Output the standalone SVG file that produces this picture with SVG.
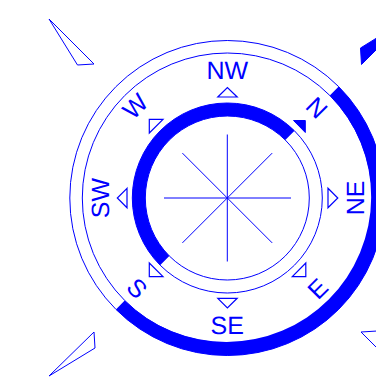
<svg xmlns="http://www.w3.org/2000/svg" width="376" height="381" viewBox="0 0 376 381">
<style>
.t{fill:none;stroke:#00f;stroke-width:1}
.k{fill:none;stroke:#00f;stroke-width:1.2}
.f{fill:#00f;stroke:#00f;stroke-width:1}
.th{fill:#00f;stroke:none}
text{font-family:"Liberation Sans",Arial,sans-serif;font-size:25px;fill:#00f;text-anchor:middle;text-rendering:geometricPrecision}
</style>
<rect width="376" height="381" fill="#fff"/>
<g id="rings">
<circle class="t" cx="227.300" cy="198" r="157.500"/>
<circle class="t" cx="227.300" cy="198" r="145"/>
<circle class="t" cx="227.300" cy="198" r="95"/>
<circle class="t" cx="227.300" cy="198" r="82"/>
<path class="th" d="M338.700 86.600A157.500 157.500 0 0 1 115.900 309.400L124.700 300.500A145 145 0 0 0 329.800 95.500Z"/>
<path class="th" d="M294.500 130.800A95 95 0 0 0 160.100 265.200L169.300 256A82 82 0 0 1 285.300 140Z"/>
</g>
<g id="connectors">
<path class="t" d="M227.300 134.500V261.500M164 198H291M182.400 153.100L272.200 242.900M272.200 153.100L182.400 242.900"/>
</g>
<g id="corner-nw"><path class="t" d="M49 19L77.500 65L94 64Z"/></g>
<g id="corner-ne"><path class="f" d="M406.500 19.500L360.500 48L361.500 64.500Z"/></g>
<g id="corner-sw"><path class="t" d="M49 376L95 348L94 332Z"/></g>
<g id="corner-se"><path class="t" d="M406 377L377.500 331L361 332Z"/></g>
<g id="n"><path class="f" d="M293.500 120.500H305.300V132.500Z"/><text transform="translate(317 107.500) rotate(45)" y="9">N</text></g>
<g id="ne"><path class="k" d="M328 188.300L337.800 198L328 207.700Z"/><text transform="translate(355 198) rotate(-90)" y="9">NE</text></g>
<g id="e"><path class="k" d="M292.300 276.700H305.800V263Z"/><text transform="translate(317.500 288.500) rotate(-45)" y="9">E</text></g>
<g id="se"><path class="k" d="M217.800 298.300H237.200L227.400 308Z"/><text x="227.300" y="333.700">SE</text></g>
<g id="s"><path class="k" d="M149.300 263V276.700H163Z"/><text transform="translate(137.300 288) rotate(45)" y="9">S</text></g>
<g id="sw"><path class="k" d="M127 188.300L117.300 198L127 207.700Z"/><text transform="translate(100 198) rotate(-90)" y="9">SW</text></g>
<g id="w"><path class="k" d="M149.300 119.300H163L149.300 133Z"/><text transform="translate(135 106) rotate(-45)" y="9">W</text></g>
<g id="nw"><path class="k" d="M217.800 97H237.200L227.400 87.500Z"/><text x="227.300" y="78.500">NW</text></g>
</svg>
